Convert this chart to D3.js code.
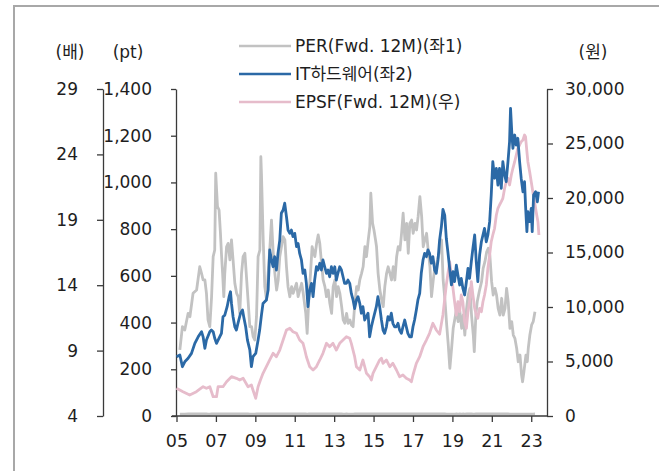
<!DOCTYPE html>
<html><head><meta charset="utf-8">
<script src="https://cdn.jsdelivr.net/npm/d3@7"></script>
<style>
html,body{margin:0;padding:0;background:#fff;}
svg{display:block;font-family:"DejaVu Sans","Noto Sans CJK KR",sans-serif;}
</style></head>
<body><svg id="c" width="659" height="471"></svg>
<script>
const xTickYears = [2005,2007,2009,2011,2013,2015,2017,2019,2021,2023];
const xTickLabels = ["05","07","09","11","13","15","17","19","21","23"];
const perTicks = [4,9,14,19,24,29];
const ptTicks = [0,200,400,600,800,1000,1200,1400];
const wonTicks = [0,5000,10000,15000,20000,25000,30000];
const legendLabels = ["PER(Fwd. 12M)(좌1)","IT하드웨어(좌2)","EPSF(Fwd. 12M)(우)"];
const unitLabels = ["(배)","(pt)","(원)"];

const perYears = [2005.17,2005.30,2005.42,2005.59,2005.68,2005.84,2006.02,2006.18,2006.27,2006.35,
2006.44,2006.52,2006.60,2006.69,2006.78,2006.86,2006.94,2006.99,2007.08,2007.16,
2007.23,2007.28,2007.34,2007.40,2007.45,2007.54,2007.62,2007.71,2007.79,2007.87,
2007.96,2008.05,2008.13,2008.21,2008.30,2008.38,2008.47,2008.55,2008.63,2008.72,
2008.81,2008.89,2008.97,2009.06,2009.14,2009.23,2009.28,2009.31,2009.40,2009.48,
2009.57,2009.65,2009.74,2009.82,2009.90,2009.99,2010.08,2010.16,2010.24,2010.41,
2010.50,2010.58,2010.66,2010.75,2010.84,2010.92,2011.09,2011.17,2011.35,2011.43,
2011.56,2011.63,2011.72,2011.80,2011.88,2012.02,2012.11,2012.19,2012.27,2012.36,
2012.44,2012.53,2012.61,2012.70,2012.78,2012.87,2012.95,2013.04,2013.12,2013.20,
2013.29,2013.38,2013.46,2013.54,2013.63,2013.71,2013.80,2013.88,2013.96,2014.05,
2014.14,2014.22,2014.30,2014.39,2014.47,2014.56,2014.64,2014.73,2014.81,2014.86,
2014.95,2015.02,2015.10,2015.15,2015.23,2015.32,2015.41,2015.49,2015.57,2015.66,
2015.74,2015.83,2015.91,2016.00,2016.08,2016.17,2016.25,2016.34,2016.42,2016.50,
2016.59,2016.68,2016.76,2016.84,2016.93,2017.01,2017.10,2017.18,2017.26,2017.35,
2017.44,2017.52,2017.60,2017.69,2017.77,2017.86,2017.94,2018.03,2018.11,2018.20,
2018.28,2018.37,2018.45,2018.53,2018.62,2018.71,2018.79,2018.87,2018.96,2019.04,
2019.13,2019.21,2019.29,2019.38,2019.47,2019.55,2019.63,2019.72,2019.80,2019.89,
2019.97,2020.06,2020.11,2020.19,2020.26,2020.36,2020.48,2020.56,2020.65,2020.74,
2020.82,2020.90,2020.99,2021.07,2021.16,2021.24,2021.32,2021.41,2021.50,2021.58,
2021.67,2021.75,2021.83,2021.92,2022.01,2022.09,2022.17,2022.26,2022.34,2022.43,
2022.51,2022.56,2022.63,2022.73,2022.80,2022.85,2022.93,2023.02,2023.10,2023.19];
const perValues = [9.05,10.83,10.57,11.85,11.59,13.38,13.63,15.41,14.91,14.40,
14.40,13.38,11.34,10.83,13.12,16.18,16.69,22.56,20.00,19.75,
17.97,16.44,14.91,13.12,14.91,16.94,17.20,15.93,17.46,15.93,
14.15,13.38,13.12,11.85,14.91,16.18,16.44,14.65,12.87,10.83,
10.83,10.06,9.81,11.59,16.18,16.69,23.82,22.56,17.46,13.89,
12.87,14.91,16.94,18.98,16.69,14.91,13.63,14.40,16.18,17.71,
17.46,15.41,13.89,13.12,13.89,13.38,14.15,13.12,14.15,13.38,
11.85,10.32,13.12,14.91,16.94,16.18,17.20,17.84,17.20,15.67,
14.40,13.89,13.12,13.63,12.62,11.85,13.89,14.40,13.12,13.89,
13.38,12.36,11.34,11.09,11.85,11.09,11.34,10.96,10.83,12.62,
13.89,13.63,14.40,14.91,15.41,16.94,16.18,17.46,18.47,21.03,
18.73,18.22,17.46,16.94,14.91,13.63,12.87,12.36,13.89,14.91,
15.41,14.91,14.40,15.41,14.40,16.18,16.94,16.69,17.97,19.50,
17.46,18.73,16.44,18.73,18.98,17.97,18.73,18.22,19.24,20.77,
19.24,16.94,17.46,17.97,16.69,15.41,13.12,14.40,15.41,15.67,
16.18,16.69,17.46,14.40,12.87,10.96,9.43,7.65,9.18,10.70,
11.47,12.23,11.21,11.97,10.70,11.72,10.19,12.23,13.25,13.76,
11.72,10.19,8.92,11.72,12.74,13.50,14.27,15.29,15.80,16.56,
16.82,16.31,14.27,13.25,13.76,13.25,12.23,11.72,13.00,11.72,
12.23,13.76,12.74,10.70,11.21,10.19,9.94,9.18,8.15,8.66,
7.13,6.62,7.39,8.66,8.15,9.18,10.19,10.96,11.21,11.97];

const itYears = [2005.00,2005.17,2005.30,2005.42,2005.59,2005.76,2005.93,2006.10,2006.27,2006.35,
2006.44,2006.52,2006.69,2006.77,2006.86,2006.94,2007.03,2007.11,2007.28,2007.36,
2007.45,2007.57,2007.67,2007.74,2007.79,2007.87,2007.96,2008.04,2008.12,2008.25,
2008.35,2008.41,2008.51,2008.60,2008.72,2008.80,2008.88,2009.02,2009.14,2009.22,
2009.31,2009.39,2009.56,2009.65,2009.73,2009.82,2009.90,2009.98,2010.07,2010.15,
2010.24,2010.32,2010.41,2010.49,2010.58,2010.66,2010.75,2010.83,2010.91,2011.00,
2011.09,2011.17,2011.25,2011.34,2011.42,2011.51,2011.59,2011.67,2011.76,2011.85,
2011.93,2012.01,2012.10,2012.18,2012.27,2012.35,2012.43,2012.52,2012.61,2012.69,
2012.77,2012.86,2012.94,2013.03,2013.11,2013.19,2013.28,2013.37,2013.45,2013.53,
2013.62,2013.70,2013.79,2013.87,2013.96,2014.04,2014.13,2014.21,2014.30,2014.38,
2014.46,2014.55,2014.72,2014.80,2014.89,2014.97,2015.14,2015.22,2015.31,2015.40,
2015.48,2015.56,2015.65,2015.73,2015.82,2015.90,2015.98,2016.07,2016.16,2016.24,
2016.32,2016.41,2016.49,2016.58,2016.66,2016.74,2016.83,2016.92,2017.00,2017.08,
2017.17,2017.25,2017.34,2017.42,2017.51,2017.59,2017.68,2017.76,2017.84,2017.93,
2018.01,2018.10,2018.18,2018.27,2018.35,2018.44,2018.52,2018.61,2018.69,2018.77,
2018.86,2018.95,2019.03,2019.11,2019.20,2019.28,2019.37,2019.45,2019.53,2019.62,
2019.71,2019.79,2019.87,2019.96,2020.04,2020.13,2020.21,2020.29,2020.38,2020.47,
2020.55,2020.63,2020.72,2020.80,2020.89,2020.97,2021.05,2021.14,2021.23,2021.31,
2021.39,2021.48,2021.56,2021.65,2021.73,2021.82,2021.90,2021.95,2022.02,2022.07,
2022.16,2022.24,2022.32,2022.41,2022.49,2022.58,2022.66,2022.71,2022.78,2022.83,
2022.92,2023.00,2023.05,2023.12,2023.22,2023.31,2023.37];
const itValues = [254,261,211,232,247,268,311,339,361,339,
290,325,361,368,361,333,311,325,354,425,
432,468,511,532,482,425,382,368,397,440,
454,425,382,325,283,211,254,268,325,368,
432,482,497,539,711,668,639,682,625,696,
753,868,882,911,853,796,782,796,768,782,
725,739,696,668,611,625,568,468,539,568,
511,582,639,625,654,625,668,639,611,625,
596,639,611,639,582,611,639,625,596,568,
568,582,568,525,497,460,497,511,482,440,
468,411,440,339,382,411,468,511,468,411,
368,354,382,425,411,440,397,382,382,397,
368,354,382,411,382,354,339,339,382,411,
454,497,525,611,668,696,682,711,696,654,
682,625,611,668,753,810,885,860,761,703,
632,561,618,575,646,604,561,589,547,518,
575,632,589,661,718,775,661,575,689,746,
775,803,746,775,832,946,1089,1018,1060,989,
1060,975,1089,1032,1003,1089,1174,1317,1203,1146,
1203,1160,1189,1089,1018,960,1003,903,789,875,
832,889,789,946,960,917,960];

const epsYears = [2005.00,2005.33,2005.67,2006.01,2006.35,2006.52,2006.69,2006.86,2007.03,2007.11,
2007.36,2007.54,2007.79,2008.04,2008.21,2008.38,2008.63,2008.80,2008.88,2009.02,
2009.14,2009.26,2009.39,2009.56,2009.73,2009.90,2010.07,2010.24,2010.41,2010.58,
2010.75,2010.91,2011.09,2011.25,2011.42,2011.51,2011.59,2011.76,2011.93,2012.10,
2012.27,2012.43,2012.61,2012.77,2012.94,2013.11,2013.28,2013.45,2013.62,2013.79,
2013.87,2014.04,2014.13,2014.30,2014.46,2014.64,2014.80,2014.89,2014.97,2015.14,
2015.31,2015.40,2015.48,2015.65,2015.82,2015.98,2016.16,2016.32,2016.49,2016.66,
2016.83,2016.92,2017.00,2017.17,2017.34,2017.51,2017.68,2017.84,2018.01,2018.18,
2018.35,2018.52,2018.69,2018.86,2018.95,2019.03,2019.11,2019.20,2019.28,2019.37,
2019.45,2019.53,2019.62,2019.71,2019.79,2019.87,2019.96,2020.04,2020.13,2020.21,
2020.29,2020.38,2020.47,2020.55,2020.63,2020.72,2020.80,2020.89,2020.97,2021.05,
2021.14,2021.23,2021.31,2021.39,2021.48,2021.56,2021.65,2021.73,2021.82,2021.90,
2021.99,2022.07,2022.16,2022.24,2022.32,2022.41,2022.49,2022.58,2022.66,2022.71,
2022.78,2022.83,2022.92,2023.00,2023.08,2023.17,2023.25,2023.34,2023.39];
const epsValues = [2541,2229,1927,2229,2688,2541,2688,1771,1771,2688,
2688,3147,3606,3459,3303,3459,2688,2844,2385,1624,
2688,3303,3917,4523,5138,5752,5440,6055,6972,7890,
8046,7734,7587,6972,6670,6055,5440,4523,4220,4523,
5138,5752,6670,6358,6670,6055,6670,6972,7275,7128,
6670,5440,4523,4220,5138,3917,3606,3303,3917,4523,
5138,5294,4835,5138,4523,4835,4220,3606,3761,3459,
3303,3147,3761,4835,5440,6358,6972,7587,8505,7890,
7500,9300,12018,14156,12936,11716,10486,9266,10486,9569,
11101,10486,8651,8046,9569,10486,12321,11101,9881,9266,
8963,9881,9569,10486,11101,12018,13550,14771,15991,16606,
17220,18440,19055,19358,19661,19972,20890,21495,21807,21193,
22110,22725,23330,23945,24560,24862,25165,25321,25780,25624,
24248,23330,22413,21495,20578,19661,18743,17826,16606];

const colors = {per:"#c2c2c2", it:"#2b69a6", eps:"#e6bccb", axis:"#3a3a3a", text:"#1e1e1e", frame:"#a8a8a8"};

const svg = d3.select("#c");
const font = '"DejaVu Sans","Noto Sans CJK KR",sans-serif';

// frame
svg.append("path").attr("d","M14,471 L14,6 L659,6").attr("fill","none")
  .attr("stroke",colors.frame).attr("stroke-width",2);

const x = d3.scaleLinear().domain([2005, 2023.8]).range([176.5, 547]);
const yPer = d3.scaleLinear().domain([4, 29]).range([416, 89]);
const yPt = d3.scaleLinear().domain([0, 1400]).range([416, 89]);
const yWon = d3.scaleLinear().domain([0, 30000]).range([416, 89]);

function style(g, fs){
  g.select(".domain").attr("stroke",colors.axis).attr("stroke-width",1.3);
  g.selectAll(".tick line").attr("stroke",colors.axis).attr("stroke-width",1.3);
  g.selectAll(".tick text").attr("fill",colors.text).style("font-size",fs+"px").style("font-family",font);
}

// faint PER trace against the right-hand scale (sits on the baseline)
const perPairs = d3.zip(perYears, perValues);
svg.append("path").datum(perPairs)
  .attr("fill","none").attr("stroke",colors.per).attr("stroke-width",2.5)
  .attr("transform","translate(0,-2)")
  .attr("d", d3.line().x(d=>x(d[0])).y(d=>yWon(d[1])));

// axes
const gPer = svg.append("g").attr("transform","translate(103,0)")
  .call(d3.axisLeft(yPer).tickValues(perTicks).tickSizeInner(6).tickSizeOuter(0).tickPadding(19));
style(gPer, 17);
const gPt = svg.append("g").attr("transform","translate(176,0)")
  .call(d3.axisLeft(yPt).tickValues(ptTicks).tickSizeInner(5).tickSizeOuter(0).tickPadding(19).tickFormat(d3.format(",")));
style(gPt, 17);
const gWon = svg.append("g").attr("transform","translate(547,0)")
  .call(d3.axisRight(yWon).tickValues(wonTicks).tickSizeInner(6).tickSizeOuter(0).tickPadding(12).tickFormat(d3.format(",")));
style(gWon, 17);
const gX = svg.append("g").attr("transform","translate(0,416)")
  .call(d3.axisBottom(x).tickValues(xTickYears).tickSizeInner(6).tickSizeOuter(0).tickPadding(13)
    .tickFormat((d,i)=>xTickLabels[i]));
gX.select(".domain").attr("d","M172,0H547");
style(gX, 17.5);

// series
const line = (ys) => d3.line().x(d=>x(d[0])).y(d=>ys(d[1]));
svg.append("path").datum(perPairs)
  .attr("fill","none").attr("stroke",colors.per).attr("stroke-width",2.8).attr("stroke-linejoin","round")
  .attr("d", line(yPer));
svg.append("path").datum(d3.zip(epsYears, epsValues))
  .attr("fill","none").attr("stroke",colors.eps).attr("stroke-width",2.8).attr("stroke-linejoin","round")
  .attr("d", line(yWon));
svg.append("path").datum(d3.zip(itYears, itValues))
  .attr("fill","none").attr("stroke",colors.it).attr("stroke-width",2.8).attr("stroke-linejoin","round")
  .attr("d", line(yPt));

// unit labels
const unitPos = [[70,58],[128,58],[593,58]];
unitLabels.forEach((t,i)=>{
  svg.append("text").attr("x",unitPos[i][0]).attr("y",unitPos[i][1]).attr("text-anchor","middle")
    .attr("fill",colors.text).style("font-size","17px").style("font-family",font).text(t);
});

// legend
const legColors = [colors.per, colors.it, colors.eps];
const legY = [46, 74, 102];
legendLabels.forEach((t,i)=>{
  svg.append("line").attr("x1",239).attr("x2",291).attr("y1",legY[i]).attr("y2",legY[i])
    .attr("stroke",legColors[i]).attr("stroke-width",2.6);
  svg.append("text").attr("x",295).attr("y",legY[i]).attr("dy","0.36em")
    .attr("fill",colors.text).style("font-size","17px").style("font-family",font).text(t);
});
</script></body></html>
